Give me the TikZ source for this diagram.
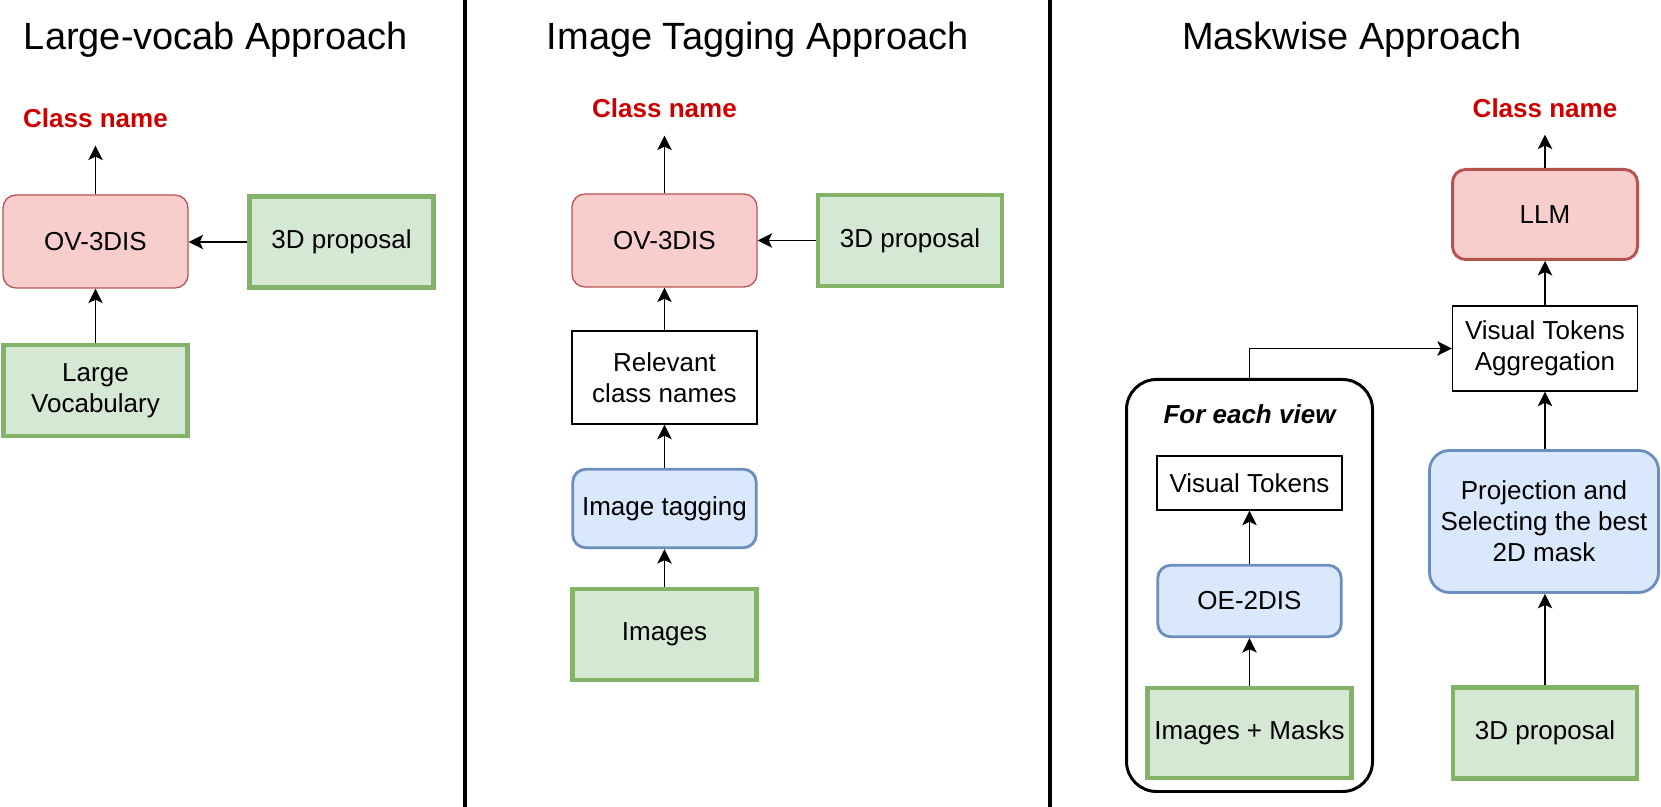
\documentclass[tikz,border=0pt]{standalone}
\usepackage{fontspec}
\setmainfont{Liberation Sans}
\usetikzlibrary{arrows.meta}
\definecolor{cRojo}{HTML}{F8CECC}
\definecolor{cRojoB}{HTML}{B85450}
\definecolor{cVerde}{HTML}{D5E8D4}
\definecolor{cVerdeB}{HTML}{82B366}
\definecolor{cAzul}{HTML}{DAE8FC}
\definecolor{cAzulB}{HTML}{6C8EBF}
\definecolor{cClase}{HTML}{CC0000}
\tikzset{
    x=1cm, y=1cm,
    font=\fontsize{14.8}{17.7}\selectfont,
    model/.style={draw=cRojoB, line width=0.75pt, rounded corners=0.26cm,
                  fill=cRojo, minimum width=3.70cm, minimum height=1.86cm,
                  align=center, inner sep=2pt},
    llm/.style={model, line width=1.7pt, minimum width=3.70cm,
                minimum height=1.80cm},
    data/.style={draw=cVerdeB, line width=2.3pt, fill=cVerde,
                 minimum width=3.68cm, minimum height=1.82cm,
                 align=center, inner sep=2pt},
    proc/.style={draw=cAzulB, line width=1.6pt, rounded corners=0.26cm,
                 fill=cAzul, minimum width=3.67cm, minimum height=1.57cm,
                 align=center, inner sep=2pt},
    plain/.style={draw=black, line width=0.8pt, fill=white,
                  minimum width=3.70cm, minimum height=1.86cm,
                  align=center, inner sep=2pt},
    vista/.style={draw=black, line width=1.7pt, rounded corners=0.6cm,
                  minimum width=4.92cm, minimum height=8.24cm},
    clase/.style={text=cClase, font=\fontsize{14.8}{17.7}\selectfont\bfseries,
                  anchor=base, inner sep=0pt},
    titulo/.style={font=\fontsize{21.6}{26}\selectfont, anchor=base,
                   inner sep=0pt},
    flecha/.style={-{Stealth[length=0.29cm, width=0.29cm, inset=0.07cm]},
                   line width=0.8pt},
    divisor/.style={line width=2pt, black},
}

\begin{document}
\begin{tikzpicture}
    \useasboundingbox (0,0) rectangle (33.22,16.14);

    \draw[divisor] (9.30,0) -- (9.30,16.14);
    \draw[divisor] (21.0,0) -- (21.0,16.14);

    % Large-vocab
    \node[titulo] (tit1) at (4.32,15.14) {Large-vocab Approach};
    \node[clase] (cn1) at (1.91,13.58) {Class name};
    \node[model] (ov1) at (1.91,11.31) {OV-3DIS};
    \node[data] (prop1) at (6.83,11.30) {3D proposal};
    \node[data] (vocab) at (1.91,8.33) {Large\\Vocabulary};

    \draw[flecha] (ov1.north) -- ([yshift=-0.34cm]cn1.south);
    \draw[flecha] (prop1.west) -- (ov1.east |- prop1.west);
    \draw[flecha] (vocab.north) -- (ov1.south);

    % Image tagging
    \node[titulo] (tit2) at (15.16,15.14) {Image Tagging Approach};
    \node[clase] (cn2) at (13.29,13.78) {Class name};
    \node[model] (ov2) at (13.29,11.33) {OV-3DIS};
    \node[data] (prop2) at (18.20,11.33) {3D proposal};
    \node[plain] (rel) at (13.29,8.59) {Relevant\\class names};
    \node[proc] (tag) at (13.29,5.97) {Image tagging};
    \node[data] (imgs) at (13.29,3.45) {Images};

    \draw[flecha] (ov2.north) -- ([yshift=-0.34cm]cn2.south);
    \draw[flecha] (prop2.west) -- (ov2.east |- prop2.west);
    \draw[flecha] (rel.north) -- (ov2.south);
    \draw[flecha] (tag.north) -- (rel.south);
    \draw[flecha] (imgs.north) -- (tag.south);

    % Maskwise
    \node[titulo] (tit3) at (27.04,15.14) {Maskwise Approach};
    \node[clase] (cn3) at (30.90,13.78) {Class name};
    \node[llm] (llm) at (30.90,11.85) {LLM};
    \node[plain, minimum height=1.70cm] (agg) at (30.90,9.17)
        {Visual Tokens\\Aggregation};
    \node[proc, rounded corners=0.4cm, minimum width=4.58cm,
          minimum height=2.84cm] (proj) at (30.88,5.71)
        {Projection and\\Selecting the best\\2D mask};
    \node[data] (prop3) at (30.90,1.48) {3D proposal};

    \node[vista] (vista) at (24.99,4.43) {};
    \node[font=\fontsize{14.8}{17.7}\selectfont\bfseries\itshape,
          anchor=base, inner sep=0pt] (cada) at (24.99,7.66) {For each view};
    \node[plain, minimum height=1.08cm] (tok) at (24.99,6.48) {Visual Tokens};
    \node[proc, minimum width=3.67cm, minimum height=1.43cm] (oe)
        at (24.99,4.12) {OE-2DIS};
    \node[data, minimum width=4.08cm, minimum height=1.80cm] (msk)
        at (24.99,1.48) {Images + Masks};

    \draw[flecha] (llm.north) -- ([yshift=-0.32cm]cn3.south);
    \draw[flecha] (agg.north) -- (llm.south);
    \draw[flecha] (proj.north -| agg.south) -- (agg.south);
    \draw[flecha] (prop3.north) -- (proj.south -| prop3.north);
    \draw[flecha] (oe.north) -- (tok.south);
    \draw[flecha] (msk.north) -- (oe.south);
    \draw[flecha] (vista.north) |- (agg.west);
\end{tikzpicture}
\end{document}
